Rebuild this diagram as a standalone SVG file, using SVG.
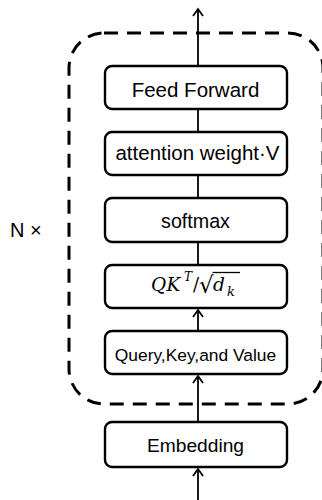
<svg xmlns="http://www.w3.org/2000/svg" width="322" height="500" viewBox="0 0 322 500">
<style>
.box{fill:#fff;stroke:#000;stroke-width:2.4}
.t{font-family:"Liberation Sans",Arial,sans-serif;fill:#000;text-anchor:middle}
.m{font-family:"DejaVu Serif",serif;font-style:italic;fill:#000}
.u{font-family:"DejaVu Serif",serif;fill:#000}
.c{stroke:#000;stroke-width:1.8;fill:none}
</style>
<defs>
<marker id="ah" viewBox="-9 -7 11 14" refX="0" refY="0" markerWidth="11" markerHeight="14" markerUnits="userSpaceOnUse" orient="auto">
<path d="M-7,-5 L0,0 L-7,5" fill="none" stroke="#000" stroke-width="1.8"/>
</marker>
</defs>
<rect x="69" y="33" width="254" height="371" rx="35" ry="35" fill="none" stroke="#000" stroke-width="3" stroke-dasharray="14 9"/>
<text class="t" x="10" y="237" style="text-anchor:start" font-size="20">N ×</text>
<g id="connectors">
<line class="c" x1="198" y1="66" x2="198" y2="9" marker-end="url(#ah)"/>
<line class="c" x1="198" y1="109" x2="198" y2="132"/>
<line class="c" x1="198" y1="175" x2="198" y2="198"/>
<line class="c" x1="198" y1="242" x2="198" y2="265"/>
<line class="c" x1="198" y1="331" x2="198" y2="310" marker-end="url(#ah)"/>
<line class="c" x1="198" y1="422" x2="198" y2="376" marker-end="url(#ah)"/>
<line class="c" x1="198" y1="500" x2="198" y2="469" marker-end="url(#ah)"/>
</g>
<g id="ff"><rect class="box" x="105" y="66" width="182" height="43" rx="7"/><text class="t" x="195.5" y="97" font-size="20.5">Feed Forward</text></g>
<g id="attn"><rect class="box" x="105" y="132" width="182" height="43" rx="7"/><text class="t" x="197.5" y="159.5" font-size="20.5">attention weight·V</text></g>
<g id="softmax"><rect class="box" x="105" y="198" width="182" height="44" rx="7"/><text class="t" x="195.5" y="228" font-size="19.7">softmax</text></g>
<g id="qk"><rect class="box" x="105" y="265" width="182" height="43" rx="7"/>
<text class="m" x="151" y="291" font-size="18.5">Q</text>
<text class="m" x="166.5" y="291" font-size="18.5">K</text>
<text class="m" x="184" y="281" font-size="12">T</text>
<text class="u" x="193" y="291" font-size="18">/</text>
<text class="u" x="199" y="293" font-size="23">√</text>
<line x1="212.5" y1="272.5" x2="240" y2="272.5" stroke="#000" stroke-width="1.3"/>
<text class="m" x="213" y="291" font-size="18.5">d</text>
<text class="m" x="227" y="296" font-size="13">k</text>
</g>
<g id="qkv"><rect class="box" x="105" y="331" width="182" height="43" rx="7"/><text class="t" x="195.5" y="360.5" font-size="17.4">Query,Key,and Value</text></g>
<g id="emb"><rect class="box" x="105" y="422" width="182" height="45" rx="7"/><text class="t" x="195.5" y="451.5" font-size="19.2">Embedding</text></g>
</svg>
